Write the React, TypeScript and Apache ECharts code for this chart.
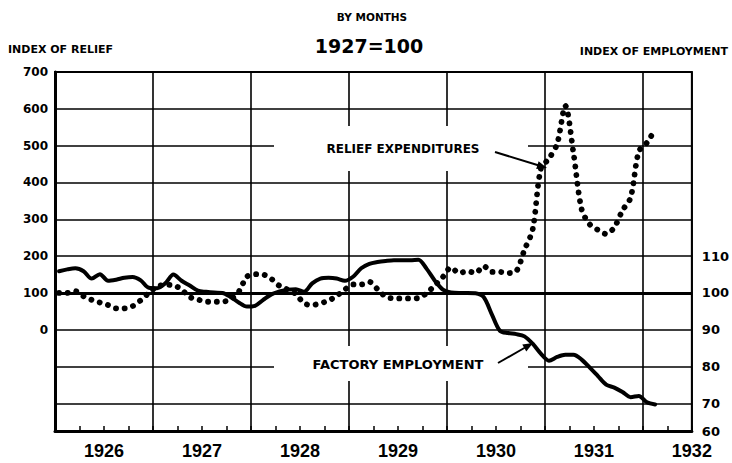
import React, { useEffect, useRef } from "react";
import * as echarts from "echarts";

// Month index 0 = January 1926; one value per month (plotted at mid-month)
const reliefIndex = [
  100, 100, 105, 91, 81, 74, 67, 58, 58, 64, 80, 100,
  117, 122, 121, 109, 89, 82, 76, 76, 76, 83, 103, 144,
  151, 150, 138, 119, 109, 97, 72, 67, 72, 79, 92, 109,
  123, 123, 130, 110, 90, 85, 85, 85, 86, 99, 120, 143,
  169, 154, 159, 154, 173, 157, 157, 154, 159, 217, 272, 437,
  465, 505, 608, 480, 327, 286, 271, 260, 278, 324, 359, 484,
  508, 545,
];
const employmentIndex = [
  105.9, 106.4, 106.7, 105.9, 103.9, 105.1, 103.3, 103.6, 104.1, 104.3, 103.4, 101.4,
  101.3, 102.6, 105.0, 103.3, 102.0, 100.6, 100.3, 100.1, 100.0, 98.9, 97.4, 96.3,
  96.5, 98.1, 99.6, 100.4, 100.9, 101.0, 100.3, 102.6, 103.9, 104.1, 103.9, 103.3,
  104.4, 106.7, 107.9, 108.4, 108.7, 108.9, 108.9, 108.9, 109.0, 106.6, 103.4, 100.9,
  100.1, 100.0, 100.0, 99.9, 98.9, 94.2, 89.7, 89.1, 88.8, 88.2, 86.2, 83.5,
  81.6, 82.6, 83.2, 83.2, 81.9, 79.7, 77.4, 75.1, 74.3, 73.1, 71.7, 72.0,
  70.3, 69.7,
];
const yearLabels = ["1926", "1927", "1928", "1929", "1930", "1931", "1932"];
const reliefTicks = [0, 100, 200, 300, 400, 500, 600, 700];
const reliefGridLines = [-200, -100, 0, 100, 200, 300, 400, 500, 600];
const employmentTicks = [70, 80, 90, 100, 110];
const employmentBottomLabel = "60";

const FONT = "DejaVu Sans";

export default function App() {
  const ref = useRef<HTMLDivElement>(null);
  useEffect(() => {
    document.body.style.margin = "0";
    const chart = echarts.init(ref.current!, null, { renderer: "svg" });
    const axisFont = { fontFamily: FONT, fontWeight: "bold" as const, fontSize: 12, color: "#000" };
    const option: any = {
      animation: false,
      backgroundColor: "#fff",
      grid: { left: 55, right: 37, top: 72, bottom: 32, show: true, borderColor: "#000", borderWidth: 2 },
      xAxis: [
        {
          type: "value", min: 0, max: 78, interval: 12, position: "bottom",
          axisLine: { show: true, onZero: false, lineStyle: { color: "#000", width: 3 } },
          axisTick: { show: false }, axisLabel: { show: false },
          splitLine: { show: true, lineStyle: { color: "#000", width: 1.6 } },
        },
        {
          type: "value", min: 0, max: 78, interval: 3, position: "bottom",
          axisLine: { show: false, onZero: false },
          axisTick: { show: true, inside: true, length: 5, lineStyle: { color: "#000", width: 1.5 } },
          splitLine: { show: false },
          axisLabel: {
            margin: 11,
            fontFamily: "Liberation Sans", fontWeight: "bold", fontSize: 18, color: "#000",
            formatter: (v: number) => {
              const r = Math.round(v);
              if (r === 78) return yearLabels[6];
              if ((r - 6) % 12 === 0) return yearLabels[(r - 6) / 12] ?? "";
              return "";
            },
          },
        },
      ],
      yAxis: [
        {
          type: "value", min: -275, max: 700, interval: 25, position: "left",
          axisLine: { show: true, onZero: false, lineStyle: { color: "#000", width: 3 } },
          axisTick: { show: false }, splitLine: { show: false },
          axisLabel: {
            ...axisFont, margin: 7,
            formatter: (v: number) => {
              const r = Math.round(v);
              return reliefTicks.includes(r) ? String(r) : "";
            },
          },
        },
        {
          type: "value", min: 62.5, max: 160, interval: 2.5, position: "right",
          axisLine: { show: false, onZero: false },
          axisTick: { show: false }, splitLine: { show: false },
          axisLabel: {
            ...axisFont, fontSize: 13, margin: 10,
            formatter: (v: number) => {
              const r = Math.round(v * 10) / 10;
              if (r === 62.5) return employmentBottomLabel;
              return employmentTicks.includes(r) ? String(r) : "";
            },
          },
        },
      ],
      series: [
        {
          name: "Relief Expenditures", type: "line", xAxisIndex: 0, yAxisIndex: 0,
          data: reliefIndex.map((v, i) => [i + 0.5, v]),
          smooth: 0.3, symbol: "none",
          lineStyle: { color: "#000", width: 5.8, type: [0.1, 8.6], cap: "round" },
          markLine: {
            silent: true, symbol: "none", label: { show: false },
            lineStyle: { color: "#000", type: "solid", width: 1.6 },
            data: reliefGridLines.map((v) =>
              v === 100 ? { yAxis: v, lineStyle: { width: 3, color: "#000", type: "solid" } } : { yAxis: v }
            ),
          },
          z: 3,
        },
        {
          name: "Factory Employment", type: "line", xAxisIndex: 0, yAxisIndex: 1,
          data: employmentIndex.map((v, i) => [i + 0.5, v]),
          smooth: 0.3, symbol: "none",
          lineStyle: { color: "#000", width: 4, cap: "round", join: "round" },
          z: 4,
        },
      ],
      graphic: [
        { type: "text", z: 100, style: { text: "BY MONTHS", x: 372, y: 17, align: "center", verticalAlign: "middle", fontFamily: FONT, fontWeight: "bold", fontSize: 10.5, fill: "#000" } },
        { type: "text", z: 100, style: { text: "1927=100", x: 369, y: 46, align: "center", verticalAlign: "middle", fontFamily: FONT, fontWeight: "bold", fontSize: 19, fill: "#000" } },
        { type: "text", z: 100, style: { text: "INDEX OF RELIEF", x: 8, y: 49, align: "left", verticalAlign: "middle", fontFamily: FONT, fontWeight: "bold", fontSize: 11, fill: "#000" } },
        { type: "text", z: 100, style: { text: "INDEX OF EMPLOYMENT", x: 728, y: 51, align: "right", verticalAlign: "middle", fontFamily: FONT, fontWeight: "bold", fontSize: 11, fill: "#000" } },
        { type: "rect", z: 90, shape: { x: 274, y: 126, width: 254, height: 45 }, style: { fill: "#fff" } },
        { type: "rect", z: 90, shape: { x: 274, y: 346, width: 254, height: 35 }, style: { fill: "#fff" } },
        { type: "text", z: 100, style: { text: "RELIEF EXPENDITURES", x: 403, y: 149, align: "center", verticalAlign: "middle", fontFamily: FONT, fontWeight: "bold", fontSize: 12, fill: "#000" } },
        { type: "text", z: 100, style: { text: "FACTORY EMPLOYMENT", x: 398, y: 364, align: "center", verticalAlign: "middle", fontFamily: FONT, fontWeight: "bold", fontSize: 13, fill: "#000" } },
        { type: "line", z: 100, shape: { x1: 495, y1: 152, x2: 539, y2: 165.5 }, style: { stroke: "#000", lineWidth: 2 } },
        { type: "polygon", z: 100, shape: { points: [[547, 168], [536.2, 168.9], [538.6, 161.3]] }, style: { fill: "#000" } },
        { type: "line", z: 100, shape: { x1: 498, y1: 363, x2: 526, y2: 347 }, style: { stroke: "#000", lineWidth: 2 } },
        { type: "polygon", z: 100, shape: { points: [[533, 343], [526.3, 351.5], [522.3, 344.5]] }, style: { fill: "#000" } },
      ],
    };
    chart.setOption(option);
    return () => chart.dispose();
  }, []);
  return <div ref={ref} style={{ width: 732, height: 463 }} />;
}
